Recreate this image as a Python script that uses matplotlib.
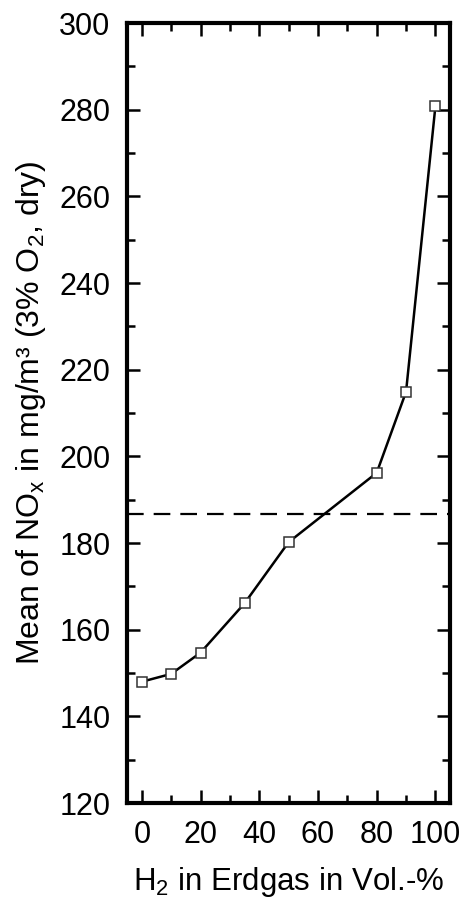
import matplotlib
matplotlib.use("Agg")
import matplotlib.pyplot as plt
from matplotlib.ticker import MultipleLocator

plt.rcParams['font.family'] = ['Liberation Sans', 'DejaVu Sans']
plt.rcParams['mathtext.fontset'] = 'custom'
plt.rcParams['mathtext.rm'] = 'Liberation Sans'

# H2 share in natural gas (vol.-%) and mean NOx emission
h2_share = [0, 10, 20, 35, 50, 80, 90, 100]
nox_mean = [148.0, 149.8, 154.7, 166.1, 180.2, 196.2, 214.9, 280.8]
nox_reference = 186.7

fig = plt.figure(figsize=(4.64, 9.08), dpi=100)
ax = fig.add_axes([0.274, 0.1156, 0.696, 0.859])

ax.axhline(nox_reference, color="black", lw=1.6, dashes=(7.5, 4.5), zorder=1)
ax.plot(h2_share, nox_mean, color="black", lw=1.8, marker="s", markersize=7.5,
        markerfacecolor="white", markeredgecolor="#333333", markeredgewidth=1.1,
        zorder=3)

ax.set_xlim(-5, 105)
ax.set_ylim(120, 300)
ax.xaxis.set_major_locator(MultipleLocator(20))
ax.xaxis.set_minor_locator(MultipleLocator(10))
ax.yaxis.set_major_locator(MultipleLocator(20))
ax.yaxis.set_minor_locator(MultipleLocator(10))

ax.tick_params(which="both", direction="in", top=True, right=True, width=1.8)
ax.tick_params(which="major", length=9.5, labelsize=22, pad=12)
ax.tick_params(which="minor", length=5.5)
for s in ax.spines.values():
    s.set_linewidth(3)

ax.set_xlabel(r"H$_\mathregular{2}$ in Erdgas in Vol.-%", fontsize=22.5, labelpad=11)
ax.set_ylabel(r"Mean of NO$_\mathregular{x}$ in mg/m³ (3% O$_\mathregular{2}$, dry)",
              fontsize=23, labelpad=8)

fig.savefig("out.png", dpi=100)
